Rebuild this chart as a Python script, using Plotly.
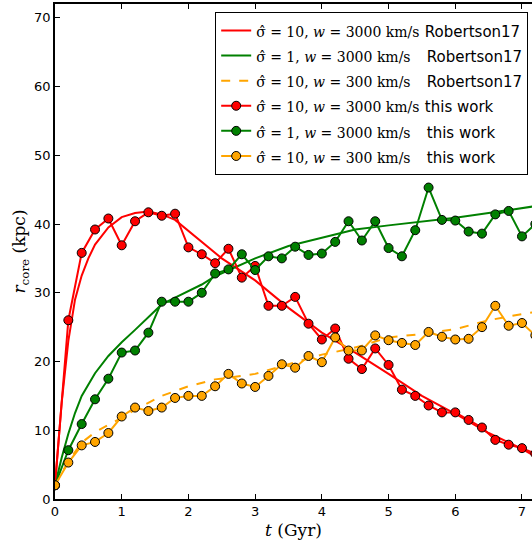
import plotly.graph_objects as go

# ---- data ----
t_pts = [round(0.2 * i, 1) for i in range(37)]  # 0.0 .. 7.2

red_work = [2.0, 26.0, 35.8, 39.2, 40.8, 36.9, 40.4, 41.7, 41.2, 41.5, 36.6,
            35.6, 34.3, 36.4, 32.2, 33.9, 28.1, 28.1, 29.4, 25.5, 23.2, 24.8,
            20.4, 18.9, 21.9, 19.5, 15.9, 15.0, 13.6, 12.6, 12.6, 11.5, 10.4,
            8.6, 7.9, 7.4, 6.6]
green_work = [2.0, 7.1, 10.9, 14.5, 17.5, 21.3, 21.6, 24.2, 28.7, 28.7, 28.7,
              30.0, 32.8, 33.4, 35.6, 33.3, 35.3, 35.0, 36.7, 35.5, 35.7, 37.4,
              40.4, 37.6, 40.4, 36.5, 35.3, 39.1, 45.3, 40.6, 40.5, 38.9, 38.6,
              41.4, 41.9, 38.2, 40.0]
orange_work = [2.0, 5.3, 7.8, 8.3, 9.6, 12.0, 13.3, 12.8, 13.3, 14.7, 15.0,
               15.0, 16.4, 18.2, 16.8, 16.3, 17.9, 19.6, 19.1, 20.8, 19.9, 23.5,
               21.6, 21.6, 23.8, 23.1, 22.7, 22.4, 24.3, 23.6, 23.2, 23.3, 25.0,
               28.1, 25.2, 25.6, 23.8]

t_red_r17 = [0, 0.1, 0.2, 0.3, 0.4, 0.5, 0.6, 0.8, 1.0, 1.2, 1.4, 1.6, 1.8, 2.0,
             2.2, 2.5, 3.0, 3.5, 4.0, 4.5, 5.0, 5.5, 6.0, 6.5, 7.0, 7.2]
red_r17 = [2, 14, 23, 29, 32.5, 35, 37, 39.5, 41, 41.6, 41.8, 41.4, 40.6, 39,
           37.3, 35, 31.8, 27.8, 24.2, 21.3, 18.2, 15.0, 12.4, 9.6, 7.3, 6.2]

t_green_r17 = [0, 0.1, 0.2, 0.3, 0.4, 0.6, 0.8, 1.0, 1.2, 1.4, 1.6, 1.8, 2.0,
               2.2, 2.4, 2.8, 3.0, 3.5, 4.0, 4.5, 5.0, 5.5, 6.0, 6.5, 7.0, 7.2]
green_r17 = [2, 6, 9.5, 12.5, 15, 18.3, 20.8, 22.8, 24.6, 26.5, 28.3, 29.3,
             30.2, 31.2, 32.4, 34.1, 35.0, 36.8, 38.0, 39.2, 39.8, 40.3, 40.9,
             41.6, 42.3, 42.6]

t_orange_r17 = [0, 0.2, 0.4, 0.6, 0.8, 1.0, 1.2, 1.6, 2.0, 2.4, 2.8, 3.0, 3.5,
                4.0, 4.4, 4.6, 5.0, 5.5, 6.0, 6.5, 7.0, 7.2]
orange_r17 = [2, 5.5, 8.2, 9.7, 10.8, 11.8, 13.0, 15.0, 16.4, 17.4, 17.9, 18.2,
              19.6, 21.0, 21.8, 22.3, 23.5, 24.0, 24.7, 26.0, 26.9, 27.2]

RED, GREEN, ORANGE = "#ff0000", "#008000", "#ffa500"


def lab(math, pad, tail):
    return ("<span style='font-family:DejaVu Serif;font-size:14px'>" + math
            + "</span>" + "&nbsp;" * pad
            + "<span style='font-size:15px'>" + tail + "</span>")


fig = go.Figure()
fig.add_trace(go.Scatter(x=t_red_r17, y=red_r17, mode="lines",
                         line=dict(color=RED, width=2),
                         name=lab("σ̂ = 10, <i>w</i> = 3000 km/s", 1, "Robertson17")))
fig.add_trace(go.Scatter(x=t_green_r17, y=green_r17, mode="lines",
                         line=dict(color=GREEN, width=2),
                         name=lab("σ̂ = 1, <i>w</i> = 3000 km/s", 3, "Robertson17")))
fig.add_trace(go.Scatter(x=t_orange_r17, y=orange_r17, mode="lines",
                         line=dict(color=ORANGE, width=2, dash="dash"),
                         name=lab("σ̂ = 10, <i>w</i> = 300 km/s", 3, "Robertson17")))

mk = dict(size=9, line=dict(color="black", width=1))
fig.add_trace(go.Scatter(x=t_pts, y=red_work, mode="lines+markers",
                         line=dict(color=RED, width=2),
                         marker=dict(color=RED, **mk),
                         name=lab("σ̂ = 10, <i>w</i> = 3000 km/s", 1, "this work")))
fig.add_trace(go.Scatter(x=t_pts, y=green_work, mode="lines+markers",
                         line=dict(color=GREEN, width=2),
                         marker=dict(color=GREEN, **mk),
                         name=lab("σ̂ = 1, <i>w</i> = 3000 km/s", 3, "this work")))
fig.add_trace(go.Scatter(x=t_pts, y=orange_work, mode="lines+markers",
                         line=dict(color=ORANGE, width=2),
                         marker=dict(color=ORANGE, **mk),
                         name=lab("σ̂ = 10, <i>w</i> = 300 km/s", 3, "this work")))

fig.update_layout(
    width=532, height=542,
    margin=dict(l=55, r=0, t=4, b=43),
    plot_bgcolor="white", paper_bgcolor="white",
    font=dict(family="DejaVu Sans", size=13, color="black"),
    showlegend=True,
    legend=dict(x=0.992, y=0.984, xanchor="right", yanchor="top",
                bgcolor="white", bordercolor="black", borderwidth=1,
                font=dict(size=17), tracegroupgap=0, itemwidth=30),
    xaxis=dict(range=[0, 7.15], tickvals=[0, 1, 2, 3, 4, 5, 6, 7],
               ticks="inside", ticklen=5, tickcolor="black",
               showline=True, linecolor="black", linewidth=1.5,
               mirror="ticks", showgrid=False, zeroline=False,
               title=dict(text="<i>t</i> (Gyr)", standoff=6,
                          font=dict(family="DejaVu Serif", size=17))),
    yaxis=dict(range=[0, 72], tickvals=[0, 10, 20, 30, 40, 50, 60, 70],
               ticks="inside", ticklen=5, tickcolor="black",
               showline=True, linecolor="black", linewidth=1.5,
               showgrid=False, zeroline=False,
               title=dict(text="<i>r</i><sub>core</sub> (kpc)", standoff=4,
                          font=dict(family="DejaVu Serif", size=17))),
)

fig.write_html("out.html")
